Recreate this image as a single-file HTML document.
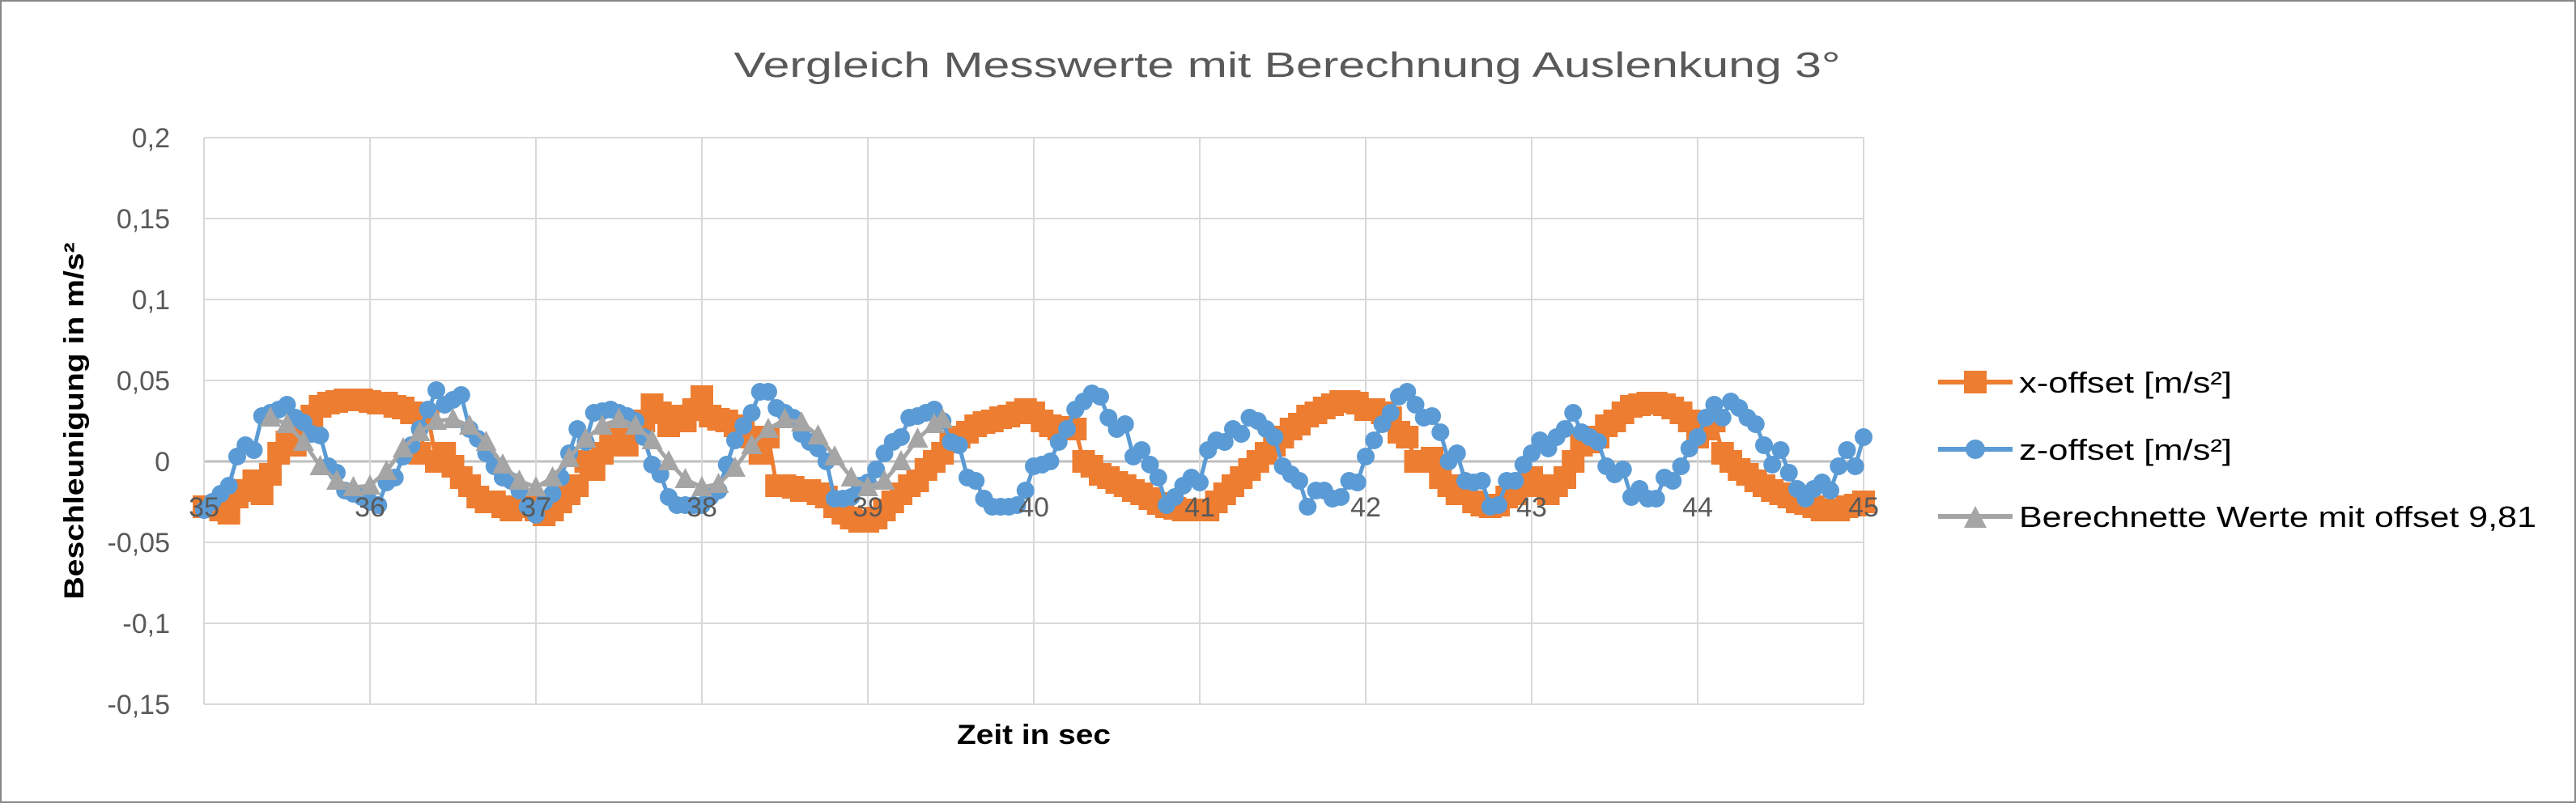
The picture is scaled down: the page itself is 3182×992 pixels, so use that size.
<!DOCTYPE html>
<html><head><meta charset="utf-8"><style>
html,body{margin:0;padding:0;background:#fff;}
svg{display:block;font-family:"Liberation Sans",sans-serif;}
</style></head><body>
<svg id="chart" width="3182" height="992" viewBox="0 0 3182 992" xmlns="http://www.w3.org/2000/svg">
<rect x="1" y="1" width="3180" height="990" fill="#fff" stroke="#888" stroke-width="2"/>
<text x="1590" y="95" text-anchor="middle" font-size="44" fill="#595959" textLength="1367" lengthAdjust="spacingAndGlyphs">Vergleich Messwerte mit Berechnung  Auslenkung 3°</text>
<g id="grid"></g>
<g id="yticks"></g>
<g id="xticks"></g>
<g id="series"></g>
<text transform="translate(103,520) rotate(-90)" text-anchor="middle" font-size="34" font-weight="bold" fill="#000" textLength="441" lengthAdjust="spacingAndGlyphs">Beschleunigung in m/s²</text>
<text x="1277" y="919" text-anchor="middle" font-size="34" font-weight="bold" fill="#000" textLength="190" lengthAdjust="spacingAndGlyphs">Zeit in sec</text>
<g>
 <g>
  <line x1="2394" y1="472" x2="2486" y2="472" stroke="#ED7D31" stroke-width="6"/>
  <rect x="2426" y="458" width="28" height="28" fill="#ED7D31"/>
  <text x="2494" y="485" font-size="36" fill="#000" textLength="263" lengthAdjust="spacingAndGlyphs">x-offset [m/s²]</text>
 </g>
 <g>
  <line x1="2394" y1="555" x2="2486" y2="555" stroke="#5B9BD5" stroke-width="6"/>
  <circle cx="2440" cy="555" r="12" fill="#5B9BD5"/>
  <text x="2494" y="568" font-size="36" fill="#000" textLength="263" lengthAdjust="spacingAndGlyphs">z-offset [m/s²]</text>
 </g>
 <g>
  <line x1="2394" y1="638" x2="2486" y2="638" stroke="#A5A5A5" stroke-width="6"/>
  <polygon points="2440,625 2454,652 2426,652" fill="#A5A5A5"/>
  <text x="2494" y="651" font-size="36" fill="#000" textLength="639" lengthAdjust="spacingAndGlyphs">Berechnette Werte mit offset 9,81</text>
 </g>
</g>
</svg>
<script>
const xTickLabels = ["35","36","37","38","39","40","41","42","43","44","45"];
const yTickLabels = ["0,2","0,15","0,1","0,05","0","-0,05","-0,1","-0,15"];
const yTickValues = [0.2,0.15,0.1,0.05,0,-0.05,-0.1,-0.15];
const timeStart = 35;
const timeStep = 0.05;
const xOffset = [
-0.028,-0.028,-0.03,-0.032,-0.022,-0.018,-0.012,-0.02,-0.008,0.005,0.012,0.01,0.02,0.028,0.034,0.036,0.037,0.038,0.038,0.038,
0.037,0.036,0.036,0.034,0.033,0.03,0.005,0.028,0.0,0.005,-0.003,-0.01,-0.015,-0.022,-0.025,-0.025,-0.028,-0.03,-0.028,-0.025,
-0.03,-0.033,-0.03,-0.025,-0.02,-0.015,0.0,-0.005,0.005,0.01,0.018,0.01,0.02,0.025,0.035,0.03,0.022,0.028,0.025,0.032,
0.04,0.028,0.026,0.025,0.022,0.02,0.015,0.005,0.015,-0.015,-0.015,-0.016,-0.018,-0.018,-0.02,-0.022,-0.028,-0.032,-0.035,-0.037,
-0.037,-0.035,-0.03,-0.025,-0.02,-0.015,-0.012,-0.005,0.0,0.005,0.012,0.015,0.018,0.022,0.024,0.025,0.027,0.028,0.03,0.032,
0.03,0.025,0.022,0.02,0.021,0.02,0.0,-0.003,-0.008,-0.01,-0.013,-0.015,-0.018,-0.02,-0.023,-0.026,-0.028,-0.029,-0.03,-0.03,
-0.03,-0.03,-0.025,-0.02,-0.015,-0.01,-0.005,0.0,0.005,0.01,0.015,0.02,0.023,0.028,0.03,0.033,0.035,0.037,0.037,0.036,
0.032,0.032,0.03,0.027,0.018,0.015,0.0,0.0,0.002,-0.01,-0.015,-0.02,-0.02,-0.025,-0.027,-0.028,-0.027,-0.022,-0.02,-0.015,
-0.01,-0.015,-0.02,-0.015,-0.01,0.0,0.01,0.012,0.015,0.022,0.025,0.03,0.034,0.035,0.036,0.036,0.035,0.033,0.03,0.025,
0.015,0.02,0.025,0.005,0.0,-0.005,-0.008,-0.012,-0.015,-0.018,-0.02,-0.022,-0.025,-0.026,-0.028,-0.03,-0.03,-0.03,-0.028,-0.027,
-0.025];
const zOffset = [
-0.03,-0.025,-0.02,-0.015,0.003,0.01,0.007,0.028,0.03,0.032,0.035,0.027,0.024,0.017,0.016,-0.003,-0.007,-0.018,-0.02,-0.022,
-0.025,-0.027,-0.013,-0.01,0.003,0.01,0.02,0.032,0.044,0.035,0.038,0.041,0.02,0.014,0.005,-0.003,-0.01,-0.012,-0.018,-0.028,
-0.033,-0.025,-0.02,-0.01,0.005,0.02,0.012,0.03,0.031,0.032,0.03,0.028,0.025,0.015,-0.002,-0.008,-0.022,-0.027,-0.027,-0.027,
-0.027,-0.022,-0.018,-0.002,0.013,0.022,0.03,0.043,0.043,0.033,0.03,0.027,0.017,0.012,0.008,0.0,-0.023,-0.023,-0.022,-0.015,
-0.013,-0.005,0.005,0.012,0.015,0.027,0.028,0.03,0.032,0.025,0.012,0.01,-0.01,-0.012,-0.023,-0.028,-0.028,-0.028,-0.027,-0.018,
-0.003,-0.002,0.0,0.012,0.02,0.032,0.037,0.042,0.04,0.027,0.02,0.023,0.003,0.007,-0.002,-0.01,-0.027,-0.022,-0.015,-0.01,
-0.013,0.007,0.013,0.012,0.02,0.017,0.027,0.025,0.02,0.015,-0.003,-0.008,-0.012,-0.028,-0.018,-0.018,-0.023,-0.022,-0.012,-0.013,
0.003,0.013,0.023,0.03,0.04,0.043,0.035,0.027,0.028,0.018,0.0,0.005,-0.012,-0.013,-0.012,-0.028,-0.027,-0.012,-0.012,-0.002,
0.005,0.013,0.008,0.015,0.02,0.03,0.018,0.015,0.012,-0.003,-0.008,-0.005,-0.022,-0.017,-0.023,-0.023,-0.01,-0.012,-0.003,0.008,
0.015,0.027,0.035,0.027,0.037,0.033,0.027,0.023,0.01,-0.002,0.007,-0.007,-0.017,-0.023,-0.017,-0.013,-0.018,-0.003,0.007,-0.003,
0.015];
const calcTimes = [35.4,35.5,35.6,35.7,35.8,35.9,36.0,36.1,36.2,36.3,36.4,36.5,36.6,36.7,36.8,36.9,37.0,37.1,37.2,37.3,37.4,37.5,37.6,37.7,37.8,37.9,38.0,38.1,38.2,38.3,38.4,38.5,38.6,38.7,38.8,38.9,39.0,39.1,39.2,39.3,39.4,39.45];
const calcValues = [0.027,0.023,0.012,-0.003,-0.012,-0.016,-0.015,-0.006,0.008,0.018,0.025,0.026,0.022,0.012,-0.002,-0.012,-0.016,-0.01,0.002,0.014,0.022,0.026,0.022,0.013,0.0,-0.011,-0.016,-0.014,-0.004,0.01,0.02,0.026,0.024,0.016,0.003,-0.01,-0.016,-0.012,0.0,0.014,0.023,0.026];

const NS = "http://www.w3.org/2000/svg";
const L = 252, R = 2302, T = 170, B = 870;
const xMin = 35, xMax = 45, yMin = -0.15, yMax = 0.2;
function xs(v){ return L + (v - xMin) / (xMax - xMin) * (R - L); }
function ys(v){ return B - (v - yMin) / (yMax - yMin) * (B - T); }
function mk(tag, attrs, parent){ const e = document.createElementNS(NS, tag); for (const k in attrs) e.setAttribute(k, attrs[k]); parent.appendChild(e); return e; }

const grid = document.getElementById('grid');
const yt = document.getElementById('yticks');
const xt = document.getElementById('xticks');
yTickValues.forEach((v, i) => {
  const zero = v === 0;
  const ln = mk('line', {x1: L, x2: R, y1: ys(v), y2: ys(v), stroke: zero ? '#bfbfbf' : '#d9d9d9', 'stroke-width': zero ? 3 : 2}, grid);
  
  
  const t = mk('text', {x: 210, y: ys(v) + 12, 'text-anchor': 'end', 'font-size': 34, fill: '#595959'}, yt);
  t.textContent = yTickLabels[i];
  
  
});
xTickLabels.forEach((lab) => {
  const v = parseFloat(lab);
  const ln = mk('line', {x1: xs(v), x2: xs(v), y1: T, y2: B, stroke: '#d9d9d9', 'stroke-width': 2}, grid);
  
  
});

const sg = document.getElementById('series');
function drawSeries(times, vals, color, name, marker){
  const g = mk('g', {}, sg);
  
  
  const pts = times.map((t, i) => xs(t).toFixed(1) + ',' + ys(vals[i]).toFixed(1)).join(' ');
  const pl = mk('polyline', {points: pts, fill: 'none', stroke: color, 'stroke-width': 5, 'stroke-linejoin': 'round'}, g);
  
  
  times.forEach((t, i) => {
    const x = xs(t), y = ys(vals[i]);
    let m;
    if (marker === 'square') m = mk('rect', {x: x - 14, y: y - 14, width: 28, height: 28, fill: color}, g);
    else if (marker === 'circle') m = mk('circle', {cx: x, cy: y, r: 11, fill: color}, g);
    else m = mk('polygon', {points: `${x},${y - 14} ${x + 13},${y + 11} ${x - 13},${y + 11}`, fill: color}, g);
    
    
  });
}
const tX = xOffset.map((_, i) => timeStart + i * timeStep);
const tZ = zOffset.map((_, i) => timeStart + i * timeStep);
drawSeries(tX, xOffset, '#ED7D31', 'x-offset-series', 'square');
drawSeries(tZ, zOffset, '#5B9BD5', 'z-offset-series', 'circle');
drawSeries(calcTimes, calcValues, '#A5A5A5', 'calculated-series', 'triangle');

xTickLabels.forEach((lab) => {
  const v = parseFloat(lab);
  const t = mk('text', {x: xs(v), y: ys(0) + 68, 'text-anchor': 'middle', 'font-size': 34, fill: '#595959'}, xt);
  t.textContent = lab;
  
  
});
document.getElementById('chart').appendChild(xt);
</script>
</body></html>
